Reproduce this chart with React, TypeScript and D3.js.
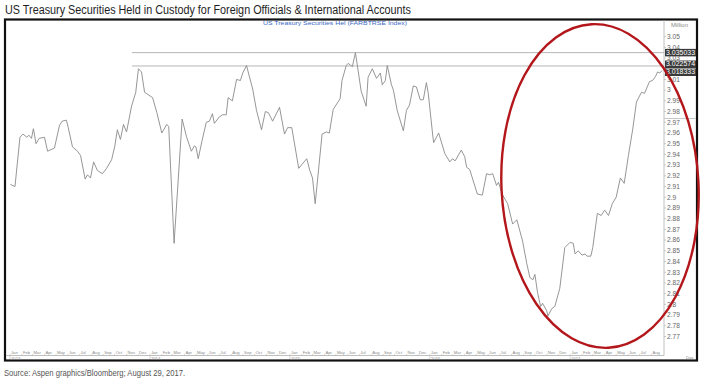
import React from "react";
import * as d3 from "d3";

const TITLE = "US Treasury Securities Held in Custody for Foreign Officials & International Accounts";
const SUBTITLE = "US Treasury Securities Hel (FARBTRSE Index)";
const SOURCE = "Source: Aspen graphics/Bloomberg; August 29, 2017.";
const UNIT = "Million";

const dates = [
  "2013-01-02","2013-01-14","2013-01-27","2013-02-04","2013-02-14","2013-02-19","2013-02-26","2013-03-03","2013-03-10","2013-03-18",
  "2013-04-01","2013-04-09","2013-04-27","2013-05-10","2013-05-17","2013-05-28","2013-06-02","2013-06-13","2013-06-26","2013-07-04",
  "2013-07-16","2013-07-22","2013-07-30","2013-08-07","2013-08-17","2013-08-30","2013-09-10","2013-09-23","2013-10-01","2013-10-08",
  "2013-10-16","2013-10-24","2013-11-01","2013-11-14","2013-11-25","2013-12-02","2013-12-10","2013-12-18","2014-01-08","2014-01-19",
  "2014-02-01","2014-02-14","2014-02-19","2014-03-05","2014-03-26","2014-04-06","2014-04-19","2014-04-27","2014-05-01","2014-05-07",
  "2014-05-17","2014-05-28","2014-06-05","2014-06-13","2014-06-18","2014-07-01","2014-07-09","2014-07-19","2014-07-24","2014-08-04",
  "2014-08-15","2014-08-25","2014-08-31","2014-09-10","2014-09-15","2014-09-26","2014-10-06","2014-10-19","2014-10-29","2014-11-06",
  "2014-11-17","2014-12-05","2014-12-18","2014-12-26","2015-01-06","2015-01-24","2015-02-14","2015-02-22","2015-03-01","2015-03-08",
  "2015-03-26","2015-04-06","2015-04-14","2015-04-24","2015-05-12","2015-05-17","2015-05-28","2015-06-02","2015-06-13","2015-06-21",
  "2015-07-06","2015-07-19","2015-07-24","2015-08-04","2015-08-15","2015-08-25","2015-08-30","2015-09-07","2015-09-12","2015-09-23",
  "2015-09-28","2015-10-08","2015-10-24","2015-11-01","2015-11-09","2015-11-19","2015-11-27","2015-12-07","2015-12-15","2015-12-23",
  "2015-12-28","2016-01-08","2016-01-11","2016-01-24","2016-02-09","2016-02-22","2016-02-29","2016-03-07","2016-03-23","2016-04-01",
  "2016-04-06","2016-04-14","2016-05-04","2016-05-17","2016-05-28","2016-06-05","2016-06-13","2016-06-23","2016-06-28","2016-07-09",
  "2016-07-22","2016-08-04","2016-08-15","2016-08-30","2016-09-10","2016-09-18","2016-09-26","2016-10-01","2016-10-08","2016-10-16",
  "2016-10-21","2016-11-01","2016-11-04","2016-11-14","2016-11-22","2016-12-05","2016-12-18","2017-01-01","2017-01-09","2017-01-14",
  "2017-01-22","2017-02-01","2017-02-09","2017-02-14","2017-02-24","2017-03-01","2017-03-13","2017-03-23","2017-04-01","2017-04-11",
  "2017-04-21","2017-05-01","2017-05-12","2017-05-22","2017-06-02","2017-06-13","2017-06-23","2017-07-06","2017-07-14","2017-07-27",
  "2017-08-04","2017-08-12","2017-08-17","2017-08-23","2017-08-29"
];

const values = [
  2.912,2.910,2.956,2.959,2.956,2.958,2.955,2.964,2.950,2.955,
  2.956,2.943,2.946,2.967,2.971,2.972,2.965,2.947,2.943,2.939,
  2.917,2.921,2.918,2.933,2.925,2.922,2.927,2.935,2.947,2.963,
  2.954,2.968,2.961,2.985,2.998,3.020,3.017,2.998,2.993,2.979,
  2.960,2.968,2.966,2.857,2.973,2.957,2.943,2.948,2.947,2.936,
  2.953,2.970,2.971,2.978,2.969,2.975,2.977,2.977,2.993,2.990,
  3.010,3.009,3.016,3.023,3.016,3.001,2.981,2.963,2.980,2.979,
  2.971,2.984,2.959,2.965,2.965,2.927,2.936,2.925,2.918,2.894,
  2.959,2.961,2.960,2.982,2.992,3.009,3.023,3.025,3.022,3.035033,
  2.999,2.985,3.012,3.020,3.011,3.016,3.005,3.009,3.023,3.005,
  3.000,2.981,2.962,2.981,2.986,3.004,3.003,2.991,2.991,3.007,
  2.997,2.960,2.951,2.960,2.941,2.933,2.936,2.934,2.944,2.938,
  2.928,2.926,2.903,2.902,2.922,2.921,2.922,2.911,2.914,2.902,
  2.894,2.875,2.879,2.859,2.838,2.825,2.823,2.828,2.811,2.798,
  2.801,2.794,2.789,2.796,2.798,2.815,2.853,2.858,2.857,2.847,
  2.850,2.846,2.847,2.845,2.845,2.853,2.885,2.883,2.888,2.883,
  2.894,2.900,2.918,2.913,2.939,2.963,2.989,2.998,2.997,3.008,
  3.009,3.013,3.017,3.016,3.018333
];

const yTicks = [3.05,3.04,3.03,3.02,3.01,3.0,2.99,2.98,2.97,2.96,2.95,2.94,2.93,2.92,2.91,2.9,2.89,2.88,2.87,2.86,2.85,2.84,2.83,2.82,2.81,2.8,2.79,2.78,2.77];
const refLevels = [3.035033, 3.022574];
const refStart = "2013-11-15";
const tagValues = [3.035033, 3.022574, 3.018333];
const monthNames = ["Jan","Feb","Mar","Apr","May","Jun","Jul","Aug","Sep","Oct","Nov","Dec"];

export default function App() {
  const W = 710, H = 378;
  const parse = d3.timeParse("%Y-%m-%d");
  const data = dates.map((d, i) => ({ date: parse(d) as Date, value: values[i] }));

  const x = d3.scaleTime()
    .domain([new Date(2013, 0, 1), new Date(2017, 8, 1)])
    .range([10, 663.3]);
  const y = d3.scaleLinear().domain([2.77, 3.05]).range([336.5, 36.6]);

  const axisX = 664;
  const line = d3.line<{ date: Date; value: number }>()
    .x(d => x(d.date))
    .y(d => y(d.value));

  const months = d3.timeMonth.range(new Date(2013, 0, 1), new Date(2017, 8, 1));

  // tag positions: spread overlapping neighbours symmetrically around their centre
  const tagH = 7.5;
  const tagPos = tagValues.map(v => y(v));
  for (let i = 1; i < tagPos.length; i++) {
    const gap = tagPos[i] - tagPos[i - 1];
    if (gap < tagH + 0.5) {
      const mid = (tagPos[i] + tagPos[i - 1]) / 2;
      tagPos[i - 1] = mid - (tagH + 0.5) / 2;
      tagPos[i] = mid + (tagH + 0.5) / 2;
    }
  }
  const refX0 = x(parse(refStart) as Date);
  const visibleTicks = yTicks.filter(t => tagPos.every(p => Math.abs(y(t) - p) >= 4.5));

  const font = "Liberation Sans, Arial, sans-serif";

  return (
    <svg width={W} height={H} style={{ position: "absolute", left: 0, top: 0, background: "#fff" }} fontFamily={font}>
      <rect x={0} y={0} width={W} height={H} fill="#fff" />
      <text x={5} y={14} fontSize={12.5} fill="#1e1e1e" textLength={406} lengthAdjust="spacingAndGlyphs">{TITLE}</text>

      {/* frame */}
      <rect x={5} y={19.5} width={692} height={341} fill="none" stroke="#111" strokeWidth={2.2} />

      <text x={263} y={24.5} fontSize={6} fill="#3b68c4" textLength={144} lengthAdjust="spacingAndGlyphs">{SUBTITLE}</text>

      {/* reference lines */}
      {refLevels.map((v, i) => (
        <line key={i} x1={refX0} x2={axisX} y1={y(v)} y2={y(v)} stroke="#b5b5b5" strokeWidth={1} />
      ))}

      {/* series */}
      <path d={line(data) || ""} fill="none" stroke="#8a8a8a" strokeWidth={0.9} />

      {/* y axis */}
      <line x1={axisX} x2={axisX} y1={20.5} y2={355.5} stroke="#c0c0c0" strokeWidth={1} />
      <line x1={axisX} x2={696} y1={118.5} y2={118.5} stroke="#c8c8c8" strokeWidth={1} />
      <text x={671} y={27} fontSize={6} fill="#8a8a8a">{UNIT}</text>
      {yTicks.map((t, i) => (
        <line key={"tk" + i} x1={axisX} x2={axisX + 2} y1={y(t)} y2={y(t)} stroke="#bbb" strokeWidth={0.8} />
      ))}
      {visibleTicks.map((t, i) => (
        <text key={"tl" + i} x={axisX + 3} y={y(t)} dy="0.35em" fontSize={6.6} fill="#666">{String(+t.toFixed(2))}</text>
      ))}
      {tagValues.map((v, i) => (
        <g key={"tag" + i}>
          <rect x={axisX + 1} y={tagPos[i] - tagH / 2} width={31} height={tagH} fill="#3a3a3a" />
          <text x={axisX + 2} y={tagPos[i]} dy="0.35em" fontSize={6.4} fill="#fff" textLength={29} lengthAdjust="spacingAndGlyphs">{v.toFixed(6)}</text>
        </g>
      ))}

      {/* x axis */}
      <line x1={6} x2={axisX} y1={355.5} y2={355.5} stroke="#c0c0c0" strokeWidth={1} />
      {months.map((m, i) => {
        const mx = x(m);
        const isJan = m.getMonth() === 0;
        return (
          <g key={"m" + i}>
            <line x1={mx} x2={mx} y1={354} y2={isJan ? 359 : 356} stroke="#bbb" strokeWidth={0.6} />
            <text x={mx + 1} y={354} fontSize={4.2} fill="#8a8a8a">{monthNames[m.getMonth()]}</text>
            {isJan && <text x={mx + 1} y={359.5} fontSize={4.2} fill="#8a8a8a">{m.getFullYear()}</text>}
          </g>
        );
      })}
      <text x={686} y={359} fontSize={4.2} fill="#8a8a8a">Day</text>

      {/* red ellipse annotation */}
      <ellipse cx={600} cy={186} rx={98.5} ry={162} fill="none" stroke="#b3171b" strokeWidth={2.4} transform="rotate(-3 600 186)" />

      <text x={4} y={375.5} fontSize={9} fill="#555" textLength={181} lengthAdjust="spacingAndGlyphs">{SOURCE}</text>
    </svg>
  );
}
